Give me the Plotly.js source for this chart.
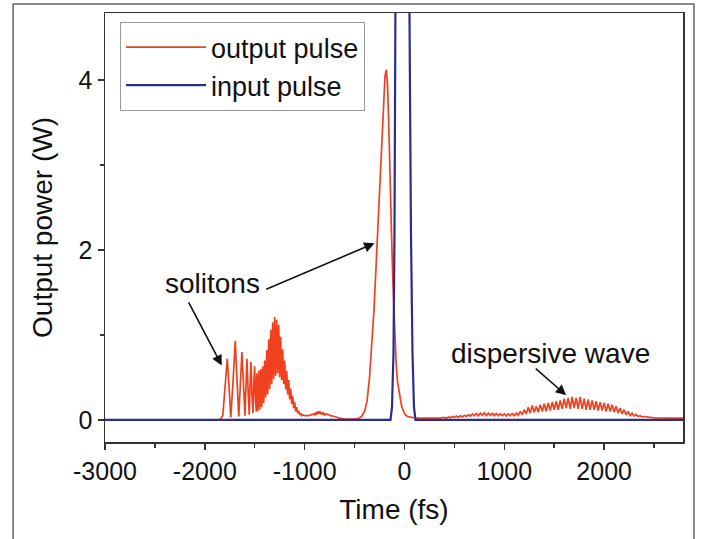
<!DOCTYPE html>
<html>
<head>
<meta charset="utf-8">
<script src="https://cdn.plot.ly/plotly-3.0.1.min.js"></script>
<style>html,body{margin:0;padding:0;background:#fff;}#chart{width:711px;height:539px;}</style>
</head>
<body>
<div id="chart"></div>
<script>
// ---- data ----
const seriesNames = ["output pulse", "input pulse"];

// output pulse (red): time (fs) and power (W)
const outTime = [
  -3000, -1850, -1820, -1800, -1775, -1755, -1740, -1720, -1695, -1675, -1660,
  -1645, -1628, -1610, -1598, -1588, -1578, -1565, -1555, -1547, -1538, -1528,
  -1518, -1510, -1502, -1493, -1485,
  -1480, -1470, -1460, -1450, -1440, -1430, -1420, -1410, -1400, -1390, -1380,
  -1370, -1360, -1350, -1340, -1330, -1320, -1310, -1300, -1290, -1280, -1270,
  -1260, -1250, -1240, -1230, -1220, -1210, -1200, -1190, -1180, -1170, -1160,
  -1150, -1140, -1130, -1120, -1110, -1100, -1090, -1080, -1070, -1060, -1050,
  -1040, -1030, -1020,
  -1000, -960, -930, -910, -900, -890, -880, -870, -860, -850, -840, -830, -820,
  -810, -800, -780, -760, -740, -700, -650, -600, -550, -500, -460,
  -430, -400, -375, -350, -325, -305, -285, -265, -245, -225, -208, -195, -182,
  -170, -158, -145, -130, -115, -100, -85, -70, -50, -30, -10, 10, 30, 60,
  100, 150, 200, 250, 300, 350, 400,
  420, 440, 460, 480, 500, 520, 540, 560, 580, 600, 620, 640, 660, 680, 700,
  720, 740, 760, 780, 800, 820, 840, 860, 880, 900, 920, 940, 960, 980, 1000,
  1020, 1040, 1060, 1080, 1100, 1120, 1140, 1160, 1180, 1200,
  1220, 1240, 1260, 1280, 1300, 1320, 1340, 1360, 1380, 1400, 1420, 1440, 1460,
  1480, 1500, 1520, 1540, 1560, 1580, 1600, 1620, 1640, 1660, 1680, 1700, 1720,
  1740, 1760, 1780, 1800, 1820, 1840, 1860, 1880, 1900, 1920, 1940, 1960, 1980,
  2000, 2020, 2040, 2060, 2080, 2100, 2120, 2140, 2160, 2180, 2200, 2220, 2240,
  2260, 2280, 2300, 2320, 2340, 2360, 2380, 2400, 2450, 2500, 2600, 2700, 2790
];
const outPower = [
  0, 0, 0.05, 0.35, 0.72, 0.35, 0.03, 0.4, 0.93, 0.4, 0.04,
  0.4, 0.8, 0.35, 0.05, 0.4, 0.72, 0.3, 0.06, 0.4, 0.68, 0.3,
  0.08, 0.4, 0.63, 0.25, 0.1,
  0.55, 0.10, 0.58, 0.12, 0.60, 0.15, 0.63, 0.20, 0.70, 0.26, 0.82,
  0.30, 0.95, 0.36, 1.06, 0.42, 1.15, 0.48, 1.21, 0.52, 1.18, 0.55,
  1.12, 0.50, 0.98, 0.47, 0.83, 0.42, 0.70, 0.36, 0.58, 0.30, 0.47,
  0.24, 0.37, 0.19, 0.28, 0.14, 0.21, 0.10, 0.15, 0.08, 0.11, 0.06,
  0.08, 0.05, 0.06,
  0.05, 0.05, 0.06, 0.07, 0.06, 0.09, 0.06, 0.10, 0.07, 0.10, 0.07, 0.09, 0.06,
  0.08, 0.06, 0.07, 0.06, 0.05, 0.04, 0.02, 0.01, 0.01, 0.01, 0.02,
  0.04, 0.1, 0.22, 0.5, 0.9, 1.3, 1.8, 2.3, 2.85, 3.4, 3.85, 4.05, 4.12,
  3.95, 3.5, 2.8, 2.2, 1.6, 1.05, 0.7, 0.45, 0.28, 0.17, 0.1, 0.06, 0.04, 0.03,
  0.025, 0.02, 0.02, 0.02, 0.025, 0.02, 0.03,
  0.02, 0.035, 0.025, 0.04, 0.03, 0.045, 0.03, 0.05, 0.035, 0.055, 0.04, 0.06, 0.045, 0.07, 0.05,
  0.075, 0.05, 0.08, 0.055, 0.085, 0.05, 0.08, 0.055, 0.075, 0.05, 0.075, 0.05, 0.07, 0.05, 0.07,
  0.045, 0.07, 0.05, 0.075, 0.05, 0.08, 0.055, 0.10, 0.06, 0.12,
  0.07, 0.15, 0.08, 0.17, 0.09, 0.16, 0.09, 0.18, 0.10, 0.19, 0.10, 0.20, 0.11,
  0.21, 0.12, 0.22, 0.12, 0.23, 0.13, 0.25, 0.14, 0.26, 0.13, 0.27, 0.14, 0.26,
  0.13, 0.27, 0.13, 0.25, 0.12, 0.24, 0.12, 0.23, 0.12, 0.22, 0.11, 0.21, 0.11,
  0.20, 0.10, 0.19, 0.10, 0.18, 0.09, 0.16, 0.08, 0.14, 0.07, 0.12, 0.06, 0.10,
  0.05, 0.08, 0.045, 0.065, 0.04, 0.05, 0.035, 0.04, 0.03, 0.025, 0.02, 0.02, 0.02
];

// input pulse (blue): time (fs) and power (W); its peak runs off the top of the plot
const inTime  = [-3000, -140, -125, -110, -100, -90, -80, -20, 40, 50, 65, 80, 95, 110, 2790];
const inPower = [0, 0, 0.15, 0.8, 2.2, 4.8, 8.0, 30, 8.0, 4.8, 2.2, 0.8, 0.15, 0, 0];

// axis ticks
const xTicks = [-3000, -2000, -1000, 0, 1000, 2000];
const xTickText = ["-3000", "-2000", "-1000", "0", "1000", "2000"];
const yTicks = [0, 2, 4];
const yTickText = ["0", "2", "4"];

// annotation labels: [text, x, y]
const labelSolitons = ["solitons", -1920, 1.6];
const labelDispersive = ["dispersive wave", 1460, 0.78];
// arrows: [headX, headY, tailX, tailY]
const arrows = [
  [-1830, 0.64, -2170, 1.40],
  [-300, 2.08, -1400, 1.53],
  [1620, 0.29, 1300, 0.62]
];

// ---- styling / layout ----
const FONT = "Liberation Sans, Arial, sans-serif";
const RED = "#f0401e";
const BLUE = "#2b2d8e";

const traces = [
  {x: outTime, y: outPower, name: seriesNames[0], type: "scatter", mode: "lines",
   line: {color: RED, width: 1.7}},
  {x: inTime, y: inPower, name: seriesNames[1], type: "scatter", mode: "lines",
   line: {color: BLUE, width: 2.2}}
];

const annotations = [
  {x: labelSolitons[1], y: labelSolitons[2], xref: "x", yref: "y", text: labelSolitons[0],
   showarrow: false, font: {family: FONT, size: 28, color: "#111"}},
  {x: labelDispersive[1], y: labelDispersive[2], xref: "x", yref: "y", text: labelDispersive[0],
   showarrow: false, font: {family: FONT, size: 28, color: "#111"}}
].concat(arrows.map(a => ({
  x: a[0], y: a[1], ax: a[2], ay: a[3], xref: "x", yref: "y", axref: "x", ayref: "y",
  text: "", showarrow: true, arrowhead: 2, arrowsize: 1.3, arrowwidth: 1.6, arrowcolor: "#111"
})));

const layout = {
  width: 711, height: 539,
  margin: {l: 105, r: 28, t: 13, b: 97},
  paper_bgcolor: "#fff", plot_bgcolor: "#fff",
  font: {family: FONT, color: "#111"},
  showlegend: true,
  legend: {x: 0.026, y: 0.979, xanchor: "left", yanchor: "top",
           bgcolor: "#fff", bordercolor: "#999", borderwidth: 1,
           font: {family: FONT, size: 27, color: "#111"}, itemwidth: 80,
           tracegroupgap: 0},
  xaxis: {range: [-3000, 2790], showgrid: false, zeroline: false,
          showline: true, linecolor: "#333", linewidth: 1.5, mirror: true,
          tickmode: "array", tickvals: xTicks, ticktext: xTickText,
          ticks: "outside", ticklen: 6, tickwidth: 1.5, tickcolor: "#333",
          minor: {tickvals: [-2500, -1500, -500, 500, 1500, 2500], ticks: "outside", ticklen: 4, tickwidth: 1.5, tickcolor: "#333"},
          tickfont: {family: FONT, size: 25, color: "#111"},
          title: {text: "Time (fs)", font: {family: FONT, size: 28, color: "#111"}, standoff: 16}},
  yaxis: {range: [-0.26, 4.79], showgrid: false, zeroline: false,
          showline: true, linecolor: "#333", linewidth: 1.5, mirror: true,
          tickmode: "array", tickvals: yTicks, ticktext: yTickText,
          ticks: "outside", ticklen: 6, tickwidth: 1.5, tickcolor: "#333",
          minor: {tickvals: [1, 3], ticks: "outside", ticklen: 4, tickwidth: 1.5, tickcolor: "#333"},
          tickfont: {family: FONT, size: 25, color: "#111"},
          title: {text: "Output power (W)", font: {family: FONT, size: 28, color: "#111"}, standoff: 18}},
  annotations: annotations,
  shapes: [
    {type: "rect", xref: "paper", yref: "paper", x0: -0.159, x1: 1.019, y0: -0.3, y1: 1.021,
     line: {color: "#666", width: 1.5}, fillcolor: "rgba(0,0,0,0)", layer: "below"}
  ]
};

Plotly.newPlot("chart", traces, layout, {displayModeBar: false, staticPlot: true});
</script>
</body>
</html>
